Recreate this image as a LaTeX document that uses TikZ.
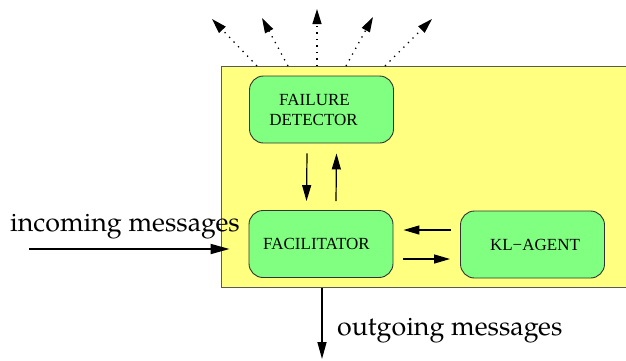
\documentclass[tikz,border=0pt]{standalone}
\usepackage{fontspec}
\newfontfamily\boxfont{Liberation Serif}
\newfontfamily\labelfont{TeX Gyre Pagella}
\usetikzlibrary{arrows.meta,calc}
\definecolor{agentyellow}{RGB}{255,255,128}
\definecolor{modgreen}{RGB}{128,255,128}
\tikzset{
  container/.style={draw=black!65, line width=1pt, fill=agentyellow,
    minimum width=410pt, minimum height=220.5pt, inner sep=0pt},
  module/.style={draw=black!80, line width=0.9pt, fill=modgreen,
    rounded corners=14pt, minimum width=144pt, minimum height=67pt,
    inner sep=0pt, align=center, font=\boxfont\fontsize{17}{20}\selectfont},
  flow/.style={line width=1.2pt, -{Triangle[length=16pt,width=9pt]}},
  bigflow/.style={line width=1.8pt, -{Triangle[length=19pt,width=10pt]}},
  broadcast/.style={line width=1.3pt, dash pattern=on 1.3pt off 5.2pt,
    -{Triangle[length=15pt,width=9pt]}},
  caption/.style={font=\labelfont\fontsize{26.8}{30}\selectfont, inner sep=0pt}
}
\begin{document}
\begin{tikzpicture}[x=1pt,y=-1pt]
  \useasboundingbox (0,0) rectangle (626,360);

  % agent container
  \node[container] (agent) at (426,176.75) {};

  % modules (labels sit slightly off-centre)
  \node[module] (fd)  at (321.5,109.5) {FAILURE\hspace*{14pt}\\DETECTOR\hspace*{16pt}};
  \node[module] (fac) at (321,244) {FACILITATOR\hspace*{9pt}};
  \node[module] (kl)  at (532.5,244.5) {\hspace*{5pt}KL−AGENT};

  % failure detector <-> facilitator
  \draw[flow] ($(fd.south)+(-14.5,10)$) -- ($(fac.north)+(-14.5,-9)$);
  \draw[flow] ($(fac.north)+(15,-9)$) -- ($(fd.south)+(15,10)$);

  % facilitator <-> KL agent
  \draw[flow] ($(kl.west)+(-9,-14.5)$) -- ($(fac.east)+(10,-14)$);
  \draw[flow] ($(fac.east)+(10,15)$) -- ($(kl.west)+(-10,14.5)$);

  % incoming messages
  \coordinate (inStart) at (29,249);
  \draw[bigflow] (inStart) -- ($(fac.west)+(-19,5)$);
  \node[caption, anchor=base west] (inLabel) at (10,231) {incoming messages};

  % outgoing messages
  \coordinate (outEnd) at (322,359);
  \draw[line width=1.5pt, -{Triangle[length=17pt,width=9pt]}]
    (agent.south -| outEnd) -- (outEnd);
  \node[caption, anchor=base west] (outLabel) at (337,335) {outgoing messages};

  % broadcast from the failure detector
  \coordinate (b1) at (212,19);
  \coordinate (b2) at (262,18);
  \coordinate (b3) at (317,9);
  \coordinate (b4) at (373,17);
  \coordinate (b5) at (432,19);
  \draw[broadcast] (agent.north -| 257,0) -- (b1);
  \draw[broadcast] (agent.north -| 288,0) -- (b2);
  \draw[broadcast] (agent.north -| 317,0) -- (b3);
  \draw[broadcast] (agent.north -| 346,0) -- (b4);
  \draw[broadcast] (agent.north -| 385,0) -- (b5);
\end{tikzpicture}
\end{document}
